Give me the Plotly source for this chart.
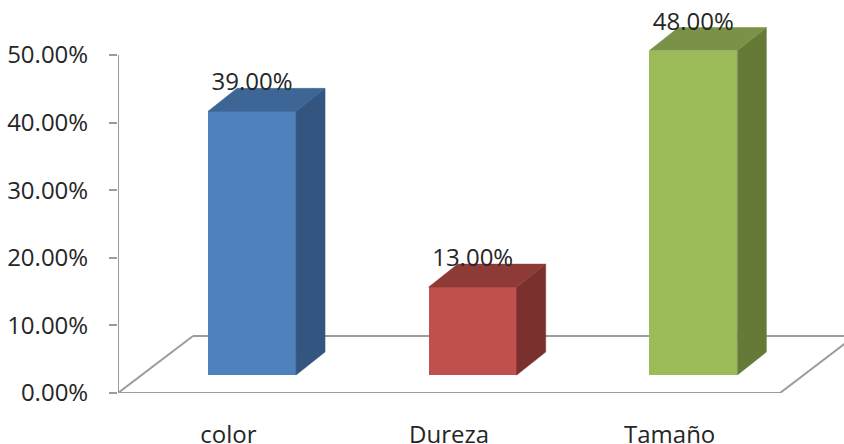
import plotly.graph_objects as go

# ---- data ----
categories = ["color", "Dureza", "Tamaño"]
values = [0.39, 0.13, 0.48]
y_ticks = [0.0, 0.1, 0.2, 0.3, 0.4, 0.5]

front_colors = ["#4F81BD", "#C0504D", "#9BBB59"]
top_colors = ["#3D6595", "#8E3B38", "#7A9247"]
side_colors = ["#34557F", "#7A302D", "#667A38"]

# ---- geometry (pixel scale of the reference -> data units) ----
PX_X = 220.67   # px per category unit
PX_Y = 676.0    # px per 1.0 (100%)
FLOOR_DX, FLOOR_DY = 75 / PX_X, 57 / PX_Y
OFF_DX, OFF_DY = 23.7 / PX_X, 18 / PX_Y
DEP_DX, DEP_DY = 29 / PX_X, 23 / PX_Y
BAR_W = 88 / PX_X

W, H = 844, 444
M_L, M_B = 118, 51
x_lo = -0.5
x_hi = x_lo + (W - M_L) / PX_X
y_hi = (H - M_B) / PX_Y

GRAY = "#9C9C9C"
TXT = "#262626"
FONT = "Open Sans"

fig = go.Figure()

xs = [i + OFF_DX for i in range(len(categories))]

# front faces
fig.add_trace(go.Bar(
    x=xs, y=values, base=OFF_DY, width=BAR_W,
    marker=dict(color=front_colors, line=dict(width=0)),
    hoverinfo="skip", showlegend=False,
))

# side and top faces
for i, v in enumerate(values):
    xl = xs[i] - BAR_W / 2
    xr = xs[i] + BAR_W / 2
    b = OFF_DY
    t = OFF_DY + v
    fig.add_trace(go.Scatter(
        x=[xr, xr + DEP_DX, xr + DEP_DX, xr, xr],
        y=[b, b + DEP_DY, t + DEP_DY, t, b],
        mode="lines", fill="toself", fillcolor=side_colors[i],
        line=dict(color=side_colors[i], width=0.5),
        hoverinfo="skip", showlegend=False,
    ))
    fig.add_trace(go.Scatter(
        x=[xl, xl + DEP_DX, xr + DEP_DX, xr, xl],
        y=[t, t + DEP_DY, t + DEP_DY, t, t],
        mode="lines", fill="toself", fillcolor=top_colors[i],
        line=dict(color=top_colors[i], width=0.5),
        hoverinfo="skip", showlegend=False,
    ))

# data labels
fig.add_trace(go.Scatter(
    x=xs,
    y=[OFF_DY + v + DEP_DY + 4 / PX_Y for v in values],
    text=[f"{v*100:.2f}%" for v in values],
    mode="text", textposition="middle center",
    textfont=dict(family=FONT, size=24, color=TXT),
    cliponaxis=False, hoverinfo="skip", showlegend=False,
))

# floor and axis lines
n = len(categories)
x_left, x_right = -0.5, n - 0.5
line = dict(color=GRAY, width=2)
shapes = [
    dict(type="line", xref="x", yref="y", x0=x_left, y0=0, x1=x_left, y1=y_ticks[-1], line=line, layer="below"),
    dict(type="line", xref="x", yref="y", x0=x_left, y0=0, x1=x_right, y1=0, line=line, layer="below"),
    dict(type="line", xref="x", yref="y", x0=x_left, y0=0, x1=x_left + FLOOR_DX, y1=FLOOR_DY, line=line, layer="below"),
    dict(type="line", xref="x", yref="y", x0=x_left + FLOOR_DX, y0=FLOOR_DY, x1=x_right + FLOOR_DX, y1=FLOOR_DY, line=line, layer="below"),
    dict(type="line", xref="x", yref="y", x0=x_right, y0=0, x1=x_right + FLOOR_DX, y1=FLOOR_DY, line=line, layer="below"),
]

fig.update_layout(
    width=W, height=H,
    margin=dict(l=M_L, r=0, t=0, b=M_B, pad=0, autoexpand=False),
    paper_bgcolor="white", plot_bgcolor="white",
    shapes=shapes,
    font=dict(family=FONT, size=24, color=TXT),
    xaxis=dict(
        range=[x_lo, x_hi], tickvals=list(range(n)), ticktext=categories,
        ticks="", showgrid=False, zeroline=False, showline=False,
        tickfont=dict(family=FONT, size=24, color=TXT),
        ticklabelstandoff=25, fixedrange=True, automargin=False,
    ),
    xaxis2=dict(
        range=[x_lo, x_hi], overlaying="x", anchor="y", side="bottom",
        tickvals=[k - 0.5 for k in range(n + 1)], showticklabels=False,
        ticks="outside", ticklen=8, tickwidth=2, tickcolor=GRAY,
        showgrid=False, zeroline=False, showline=False, automargin=False,
    ),
    yaxis=dict(
        range=[0, y_hi], tickvals=y_ticks, tickformat=".2%",
        ticks="outside", ticklen=8, tickwidth=2, tickcolor=GRAY,
        showgrid=False, zeroline=False, showline=False,
        tickfont=dict(family=FONT, size=24, color=TXT),
        ticklabelstandoff=16, fixedrange=True, automargin=False,
    ),
    bargap=0,
)

fig.write_html(
    "out.html",
    config=dict(displayModeBar=False),
    post_script="document.body.style.margin='0';document.body.style.overflow='hidden';",
)
